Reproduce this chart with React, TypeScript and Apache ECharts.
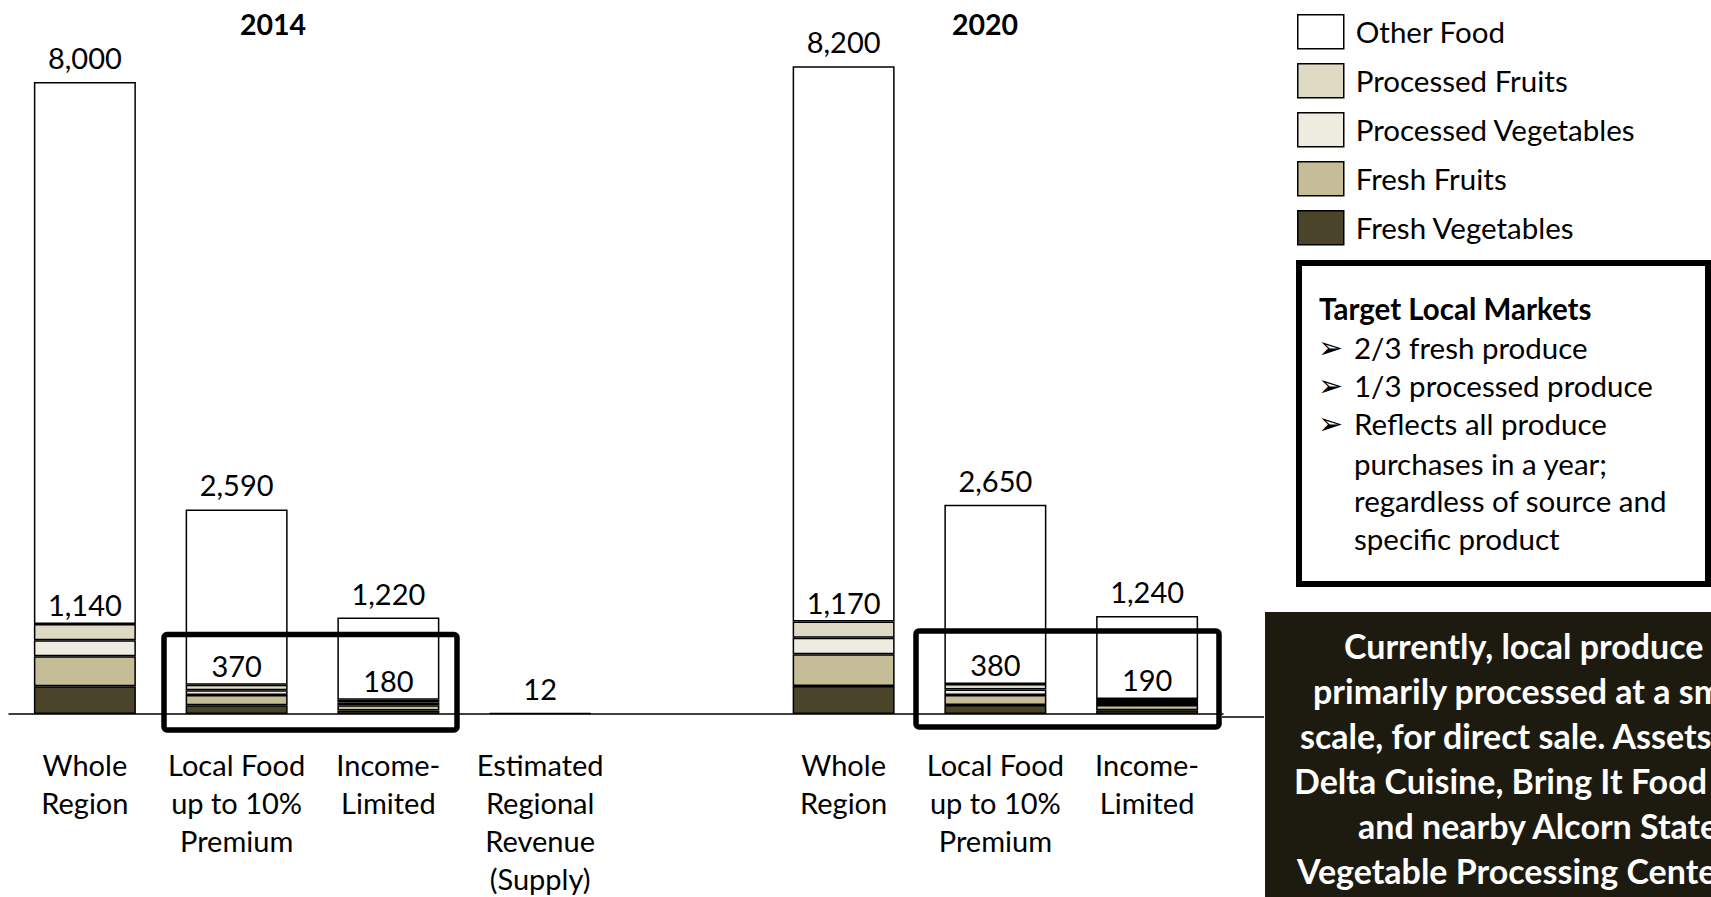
import React, { useEffect, useRef } from "react";
import * as echarts from "echarts";

const categories = [
  "Whole\nRegion",
  "Local Food\nup to 10%\nPremium",
  "Income-\nLimited",
  "Estimated\nRegional\nRevenue\n(Supply)",
  "",
  "Whole\nRegion",
  "Local Food\nup to 10%\nPremium",
  "Income-\nLimited",
];
const totals = [8000, 2590, 1220, 12, null, 8200, 2650, 1240];
const freshVegetables = [350, 110, 45, null, null, 355, 115, 48];
const freshFruits = [380, 130, 65, null, null, 400, 125, 65];
const processedVegetables = [205, 60, 35, null, null, 210, 70, 40];
const processedFruits = [205, 70, 35, null, null, 205, 70, 37];
const yearTitles = ["2014", "2020"];
const targetTitle = "Target Local Markets";
const targetBullets = ["2/3 fresh produce", "1/3 processed produce", "Reflects all produce"];
const targetContinuation = ["purchases in a year;", "regardless of source and", "specific product"];
const noteLines = [
  "Currently, local produce is",
  "primarily processed at a small",
  "scale, for direct sale. Assets like",
  "Delta Cuisine, Bring It Food Hub,",
  "and nearby Alcorn State",
  "Vegetable Processing Center",
];

const FONT = "Lato";
const n = (v: number | null) => (v == null ? 0 : v);
const produceTotals = categories.map((_, i) =>
  freshVegetables[i] == null
    ? null
    : n(freshVegetables[i]) + n(freshFruits[i]) + n(processedVegetables[i]) + n(processedFruits[i])
);
const otherFood = categories.map((_, i) =>
  totals[i] == null ? null : (totals[i] as number) - n(produceTotals[i])
);
const fmt = (v: number | null) => (v == null ? "" : v.toLocaleString("en-US"));

const baseItem = (color: string) => ({ color, borderColor: "#000", borderWidth: 1.5 });

export default function App() {
  const ref = useRef<HTMLDivElement>(null);
  useEffect(() => {
    const chart = echarts.init(ref.current!, null, { renderer: "svg" });
    const mk = (name: string, data: (number | null)[], color: string, extra: any = {}) => ({
      name,
      type: "bar",
      stack: "total",
      barWidth: 102,
      data,
      itemStyle: baseItem(color),
      emphasis: { disabled: true },
      ...extra,
    });
    const labelStyle = { fontSize: 29, fontFamily: FONT, color: "#000" };
    const txt = (text: string, x: number, y: number, font: string, fill = "#000", align = "left") => ({
      type: "text",
      x,
      y,
      silent: true,
      style: { text, font, fill, textAlign: align, align, textVerticalAlign: "middle", verticalAlign: "middle" },
    });
    const graphics: any[] = [
      txt(yearTitles[0], 273, 24, `bold 28.5px ${FONT}`, "#000", "center"),
      txt(yearTitles[1], 985, 24, `bold 28.5px ${FONT}`, "#000", "center"),
      {
        type: "rect",
        silent: true,
        shape: { x: 164, y: 634.5, width: 293, height: 95.5, r: 3 },
        style: { fill: "none", stroke: "#000", lineWidth: 5.5 },
        z: 10,
      },
      {
        type: "rect",
        silent: true,
        shape: { x: 916, y: 631, width: 303, height: 96, r: 3 },
        style: { fill: "none", stroke: "#000", lineWidth: 5.5 },
        z: 10,
      },
      {
        type: "line",
        silent: true,
        shape: { x1: 1222, y1: 717, x2: 1264, y2: 717 },
        style: { stroke: "#000", lineWidth: 1.5 },
      },
      {
        type: "rect",
        silent: true,
        shape: { x: 1299, y: 263, width: 409, height: 321 },
        style: { fill: "#fff", stroke: "#000", lineWidth: 6 },
      },
      txt(targetTitle, 1319, 308, `bold 29.5px ${FONT}`),
      {
        type: "rect",
        silent: true,
        shape: { x: 1265, y: 612, width: 470, height: 300 },
        style: { fill: "#1D1B10" },
      },
    ];
    const bulletYs = [347, 385, 423];
    targetBullets.forEach((t, i) => {
      graphics.push(txt("\u27A2", 1318, bulletYs[i], `30px 'DejaVu Sans'`));
      graphics.push(txt(t, 1354, bulletYs[i], `29.5px ${FONT}`));
    });
    const contYs = [463, 500, 538];
    targetContinuation.forEach((t, i) => graphics.push(txt(t, 1354, contYs[i], `29.5px ${FONT}`)));
    const noteX = [1344, 1313, 1300, 1294, 1358, 1297];
    noteLines.forEach((t, i) => graphics.push(txt(t, noteX[i], 645 + i * 45, `bold 34px ${FONT}`, "#fff")));

    chart.setOption({
      animation: false,
      backgroundColor: "#fff",
      grid: { left: 9, right: 488, top: 3, bottom: 180, containLabel: false },
      legend: {
        orient: "vertical",
        left: 1297,
        top: 14,
        padding: 0,
        itemWidth: 46,
        itemHeight: 34,
        itemGap: 13.5,
        icon: "rect",
        selectedMode: false,
        data: ["Other Food", "Processed Fruits", "Processed Vegetables", "Fresh Fruits", "Fresh Vegetables"],
        itemStyle: { borderColor: "#000", borderWidth: 1.5 },
        textStyle: { fontSize: 29.5, lineHeight: 34, fontFamily: FONT, color: "#000", padding: [0, 0, 0, 7] },
      },
      xAxis: {
        type: "category",
        data: categories,
        axisTick: { show: false },
        axisLine: { lineStyle: { color: "#000", width: 1.5 } },
        axisLabel: {
          interval: 0,
          margin: 31,
          fontSize: 29,
          lineHeight: 38,
          fontFamily: FONT,
          color: "#000",
        },
      },
      yAxis: { type: "value", min: 0, max: 9000, show: false, splitLine: { show: false } },
      series: [
        mk("Fresh Vegetables", freshVegetables, "#4A452A"),
        mk("Fresh Fruits", freshFruits, "#C4BD97"),
        mk("Processed Vegetables", processedVegetables, "#EEECE1"),
        mk("Processed Fruits", processedFruits, "#DDD9C3", {
          z: 3,
          label: {
            show: true,
            position: "top",
            distance: 5,
            ...labelStyle,
            formatter: (p: any) => fmt(produceTotals[p.dataIndex]),
          },
        }),
        mk("Other Food", otherFood, "#FFFFFF", {
          label: {
            show: true,
            position: "top",
            distance: 10,
            ...labelStyle,
            formatter: (p: any) => fmt(totals[p.dataIndex]),
          },
        }),
      ],
      graphic: graphics,
    });
    return () => chart.dispose();
  }, []);
  return (
    <div
      ref={ref}
      style={{ position: "fixed", left: 0, top: 0, width: 1711, height: 897, background: "#fff" }}
    />
  );
}
